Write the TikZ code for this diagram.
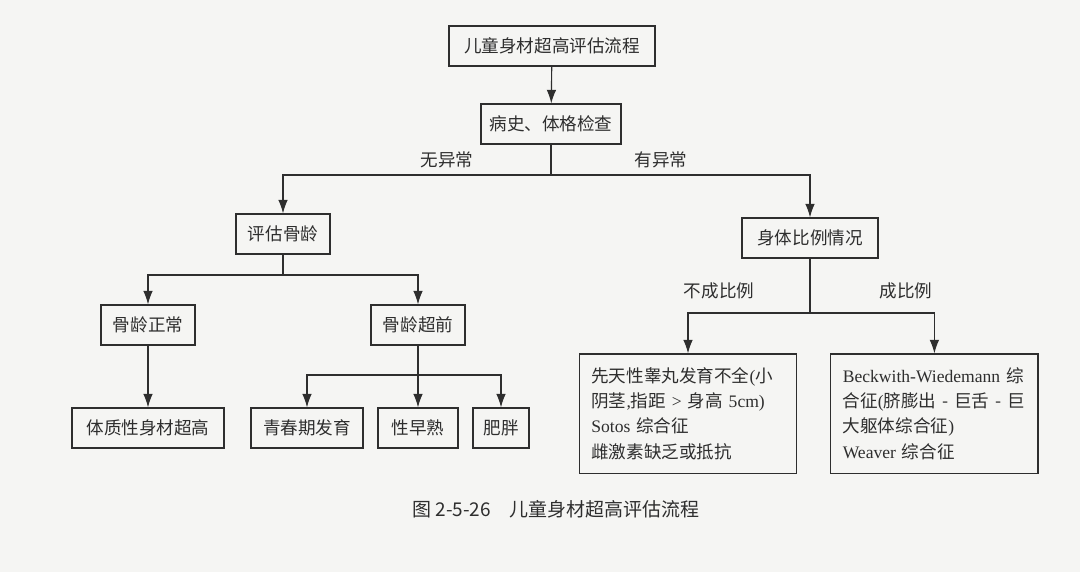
\documentclass[tikz,border=0pt]{standalone}
\usepackage{fontspec}
\setmainfont{Noto Sans CJK SC}
\newfontfamily\lat{Liberation Serif}
\usetikzlibrary{arrows.meta}

\definecolor{paper}{HTML}{F5F5F3}
\definecolor{ink}{HTML}{2E2E2E}

\tikzset{
    box/.style={draw=ink, line width=0.8pt, minimum height=1cm, inner sep=4pt, text=ink, font=\fontsize{12.5}{18}\selectfont},
    tbox/.style={box, align=left, text width=#1, inner xsep=0.3cm},
    arr/.style={draw=ink, line width=0.8pt, -{Latex[length=3.4mm, width=2.4mm]}},
    lnk/.style={draw=ink, line width=0.8pt},
    lbl/.style={text=ink, font=\fontsize{12.5}{15}\selectfont}
}

\begin{document}
\begin{tikzpicture}
    \fill[paper] (0,0) rectangle (27,14.3);
    \useasboundingbox (0,0) rectangle (27,14.3);

    \node[box, minimum width=5.15cm] (title) at (13.8,13.15) {儿童身材超高评估流程};
    \node[box, minimum width=3.5cm] (history) at (13.775,11.2) {病史、体格检查};

    \node[box, minimum width=2.35cm] (boneage) at (7.075,8.45) {评估骨龄};
    \node[box, minimum width=3.4cm] (ratio) at (20.25,8.35) {身体比例情况};

    \node[box, minimum width=2.35cm] (normal) at (3.7,6.175) {骨龄正常};
    \node[box, minimum width=2.35cm] (advance) at (10.45,6.175) {骨龄超前};

    \node[box, minimum width=3.8cm] (constit) at (3.7,3.6) {体质性身材超高};
    \node[box, minimum width=2.8cm] (puberty) at (7.675,3.6) {青春期发育};
    \node[box, minimum width=2cm] (precoc) at (10.45,3.6) {性早熟};
    \node[box, minimum width=1.4cm] (obese) at (12.525,3.6) {肥胖};

    \node[tbox=4.83cm, minimum height=2.98cm] (dispro) at (17.2,3.96) {先天性睾丸发育不全{\lat (}小\\阴茎{\lat ,}指距 {\lat >} 身高 {\lat 5cm)}\\{\lat Sotos} 综合征\\雌激素缺乏或抵抗};
    \node[tbox=4.58cm, minimum height=2.98cm] (propor) at (23.36,3.96) {{\lat Beckwith-Wiedemann} 综\\合征{\lat (}脐膨出 - 巨舌 - 巨\\大躯体综合征{\lat )}\\{\lat Weaver} 综合征};

    \coordinate (s1) at (13.775,9.925);
    \coordinate (s2) at (7.075,7.425);
    \coordinate (s3) at (10.45,4.925);
    \coordinate (s4) at (20.25,6.475);

    \draw[arr] (title) -- (history);

    \draw[lnk] (history) -- (s1);
    \draw[arr] (s1) -| (boneage);
    \draw[arr] (s1) -| (ratio);
    \node[lbl] (noabn) at (11.175,10.3) {无异常};
    \node[lbl] (abn) at (16.525,10.3) {有异常};

    \draw[lnk] (boneage) -- (s2);
    \draw[arr] (s2) -| (normal);
    \draw[arr] (s2) -| (advance);
    \draw[arr] (normal) -- (constit);

    \draw[lnk] (advance) -- (s3);
    \draw[arr] (s3) -| (puberty);
    \draw[arr] (s3) -- (precoc);
    \draw[arr] (s3) -| (obese);

    \draw[lnk] (ratio) -- (s4);
    \draw[arr] (s4) -| (dispro);
    \draw[arr] (s4) -| (propor);
    \node[lbl] (disprolbl) at (17.975,7.025) {不成比例};
    \node[lbl] (proporlbl) at (22.65,7.025) {成比例};

    \node[text=ink, font=\fontsize{13.5}{16}\selectfont] (caption) at (13.9,1.575) {图 2-5-26\quad 儿童身材超高评估流程};
\end{tikzpicture}
\end{document}
